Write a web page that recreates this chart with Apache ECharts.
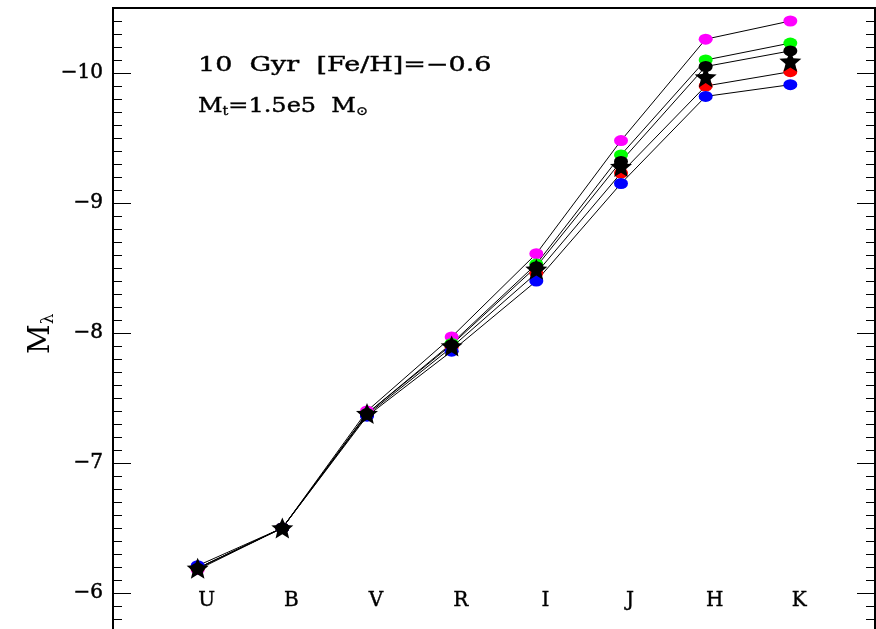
<!DOCTYPE html>
<html>
<head>
<meta charset="utf-8">
<script src="https://cdn.jsdelivr.net/npm/echarts@6/dist/echarts.min.js"></script>
<style>
  html, body { margin: 0; padding: 0; background: #fff; }
  #chart { width: 876px; height: 629px; }
</style>
</head>
<body>
<div id="chart"></div>
<script>
// Photometric bands along the x axis
const bands = ['U', 'B', 'V', 'R', 'I', 'J', 'H', 'K'];

// Integrated absolute magnitudes per band for each model realisation
const magentaMags = [-6.18, -6.50, -7.40, -7.97, -8.61, -9.48, -10.26, -10.40];
const greenMags   = [-6.19, -6.50, -7.38, -7.92, -8.53, -9.37, -10.10, -10.23];
const redMags     = [-6.19, -6.50, -7.37, -7.89, -8.46, -9.23, -9.90, -10.01];
const blueMags    = [-6.21, -6.50, -7.36, -7.86, -8.40, -9.15, -9.82, -9.91];
const blackMags   = [-6.19, -6.50, -7.38, -7.91, -8.51, -9.32, -10.05, -10.17];
// Reference values drawn as stars
const starMags    = [-6.19, -6.50, -7.38, -7.90, -8.49, -9.28, -9.97, -10.09];

// Labelled magnitude ticks
const majorTicks = [-10, -9, -8, -7, -6];

const yMin = -10.5, yMax = -5.5;
const minorTicks = [];
for (let k = -105; k <= -55; k++) minorTicks.push(k / 10);

const serif = 'DejaVu Serif';
const starPath = 'path://M0,-10 L2.7,-3.5 L9.51,-3.09 L4.2,1.3 L5.88,8.09 L0,4.4 L-5.88,8.09 L-4.2,1.3 L-9.51,-3.09 L-2.7,-3.5 Z';

function pts(arr) { return arr.map((v, i) => [i, v]); }

function lineSeries(name, color, arr) {
  return {
    name: name,
    type: 'line',
    data: pts(arr),
    symbol: 'circle',
    symbolSize: [14, 11],
    itemStyle: { color: color, opacity: 1 },
    lineStyle: { color: '#000', width: 1 },
    animation: false
  };
}

function yAxisDef(pos, ticks, len, showLabels) {
  return {
    type: 'value',
    position: pos,
    min: yMin,
    max: yMax,
    inverse: true,
    axisLine: { show: false, onZero: false },
    splitLine: { show: false },
    axisTick: {
      show: true, inside: true, length: len, customValues: ticks,
      lineStyle: { color: '#000', width: 1 }
    },
    axisLabel: showLabels ? {
      show: true,
      customValues: ticks,
      margin: 10,
      color: '#000',
      fontFamily: serif,
      fontSize: 20,
      textBorderColor: '#000',
      textBorderWidth: 0.5,
      formatter: v => '\u2212' + Math.abs(v)
    } : { show: false }
  };
}

const chart = echarts.init(document.getElementById('chart'), null, { renderer: 'canvas' });

chart.setOption({
  backgroundColor: '#fff',
  animation: false,
  grid: {
    left: 113, top: 8, width: 762, height: 650,
    outerBoundsMode: 'none',
    containLabel: false,
    show: true, borderColor: '#000', borderWidth: 2, backgroundColor: 'transparent'
  },
  xAxis: {
    type: 'value',
    min: -1,
    max: 8,
    interval: 1,
    axisLine: { show: false, onZero: false },
    axisTick: { show: false },
    splitLine: { show: false },
    axisLabel: {
      inside: true,
      margin: 47,
      color: '#000',
      fontFamily: serif,
      fontSize: 20,
      textBorderColor: '#000',
      textBorderWidth: 0.4,
      padding: [0, 0, 0, 18],
      formatter: v => (v >= 0 && v < bands.length) ? bands[v] : ''
    }
  },
  yAxis: [
    yAxisDef('left', majorTicks, 18, true),
    yAxisDef('left', minorTicks, 9, false),
    yAxisDef('right', majorTicks, 18, false),
    yAxisDef('right', minorTicks, 9, false)
  ],
  graphic: [
    {
      type: 'text', x: 198, y: 56, scaleX: 1.35,
      style: {
        text: '10  Gyr  [Fe/H]=\u22120.6', font: '20px "DejaVu Serif"',
        fill: '#000', stroke: '#000', lineWidth: 0.4
      }
    },
    {
      type: 'text', x: 198, y: 96, scaleX: 1.2,
      style: {
        text: '{m|M}{s|t}{m|=1.5e5  M}{s|\u2299}',
        rich: {
          m: { fontFamily: serif, fontSize: 20, fill: '#000', stroke: '#000', lineWidth: 0.4 },
          s: { fontFamily: serif, fontSize: 12, fill: '#000', stroke: '#000', lineWidth: 0.3, padding: [10, 0, 0, 0] }
        }
      }
    },
    {
      type: 'text', x: 26, y: 354, rotation: Math.PI / 2,
      style: {
        text: '{m|M}{s|\u03bb}',
        rich: {
          m: { fontFamily: serif, fontSize: 29, fill: '#000' },
          s: { fontFamily: serif, fontSize: 17, fill: '#000', padding: [14, 0, 0, 0] }
        }
      }
    }
  ],
  series: [
    lineSeries('magenta', '#ff00ff', magentaMags),
    lineSeries('green', '#00ff00', greenMags),
    lineSeries('red', '#ff0000', redMags),
    lineSeries('blue', '#0000ff', blueMags),
    lineSeries('black', '#000000', blackMags),
    {
      name: 'star',
      type: 'scatter',
      data: pts(starMags),
      symbol: starPath,
      symbolSize: [22, 21],
      itemStyle: { color: '#000', opacity: 1 },
      z: 5,
      animation: false
    }
  ]
});
</script>
</body>
</html>
